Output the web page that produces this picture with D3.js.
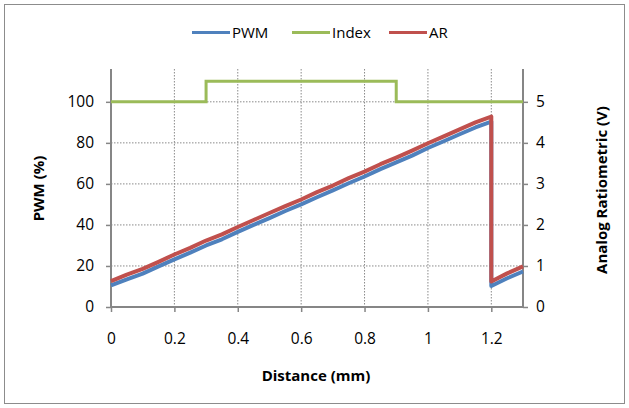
<!DOCTYPE html>
<html>
<head>
<script src="https://cdnjs.cloudflare.com/ajax/libs/d3/7.8.5/d3.min.js"></script>
<style>
 body {margin:0; background:#fff;}
 svg {display:block;}
 text {font-family: "Open Sans", sans-serif; fill:#000;}
</style>
<title>PWM / AR vs distance</title>
</head>
<body>
<div id="contenedor"></div>
<script>
// distance (mm)
var distance = [0,0.05,0.1,0.15,0.2,0.25,0.3,0.35,0.4,0.45,0.5,0.55,0.6,0.65,0.7,0.75,0.8,0.85,0.9,0.95,1,1.05,1.1,1.15,1.2,1.2,1.25,1.3];
// PWM (%)
var pwm = [10.5,13.5,16.3,19.8,23.2,26.5,30.0,33.0,36.6,40.0,43.3,46.8,50.0,53.5,56.8,60.3,63.6,67.2,70.5,73.8,77.5,80.8,84.2,87.5,90.3,10.2,14.0,17.3];
// AR (V)
var ar = [0.63,0.79,0.93,1.10,1.28,1.44,1.62,1.77,1.95,2.12,2.29,2.46,2.62,2.80,2.96,3.14,3.30,3.48,3.64,3.81,3.99,4.16,4.33,4.50,4.64,0.62,0.82,0.99];
// Index (%), step
var indexX = [0,0.3,0.3,0.9,0.9,1.3];
var indexY = [100,100,110,110,100,100];

var xTicks = [0,0.2,0.4,0.6,0.8,1,1.2];
var yTicks = [0,20,40,60,80,100];
var y2Ticks = [0,1,2,3,4,5];

var width = 629, height = 408;
var m = {left:111, right:523, top:69, bottom:307};

var svg = d3.select("#contenedor").append("svg").attr("width",width).attr("height",height);

svg.append("rect").attr("x",4.5).attr("y",4.5).attr("width",620).attr("height",399)
   .attr("fill","#fff").attr("stroke","#8c8c8c").attr("stroke-width",1);

var x = d3.scaleLinear().domain([0,1.3]).range([m.left,m.right]);
var y = d3.scaleLinear().domain([0,116]).range([m.bottom,m.top]);
var y2 = d3.scaleLinear().domain([0,5.8]).range([m.bottom,m.top]);

// grid
svg.append("g").selectAll("line").data(yTicks.slice(1)).enter().append("line")
   .attr("x1",m.left).attr("x2",m.right).attr("y1",d=>y(d)).attr("y2",d=>y(d))
   .attr("stroke","#8a8a8a").attr("stroke-width",1).attr("stroke-dasharray","1.5,1.5");
svg.append("g").selectAll("line").data(xTicks.slice(1)).enter().append("line")
   .attr("x1",d=>x(d)).attr("x2",d=>x(d)).attr("y1",m.top).attr("y2",m.bottom)
   .attr("stroke","#8a8a8a").attr("stroke-width",1).attr("stroke-dasharray","1.5,1.5");

// axes
function styleAxis(g){
  g.select(".domain").remove();
  g.selectAll(".tick line").attr("stroke","#868686").attr("stroke-width",1.5);
  g.selectAll(".tick text").style("font-size","15.5px").style("font-family","'Open Sans', sans-serif");
}
svg.append("g").attr("transform","translate(0,"+m.bottom+")")
   .call(d3.axisBottom(x).tickValues(xTicks).tickSize(5).tickPadding(21).tickFormat(d3.format("")))
   .call(styleAxis);
svg.append("g").attr("transform","translate("+m.left+",0)")
   .call(d3.axisLeft(y).tickValues(yTicks).tickSize(5).tickPadding(12))
   .call(styleAxis);
svg.append("g").attr("transform","translate("+m.right+",0)")
   .call(d3.axisRight(y2).tickValues(y2Ticks).tickSize(5).tickPadding(8).tickFormat(d3.format("d")))
   .call(styleAxis);

svg.append("line").attr("x1",m.left).attr("x2",m.left).attr("y1",m.top).attr("y2",m.bottom).attr("stroke","#868686").attr("stroke-width",2);
svg.append("line").attr("x1",m.right).attr("x2",m.right).attr("y1",m.top).attr("y2",m.bottom).attr("stroke","#868686").attr("stroke-width",2);
svg.append("line").attr("x1",m.left).attr("x2",m.right).attr("y1",m.bottom).attr("y2",m.bottom).attr("stroke","#868686").attr("stroke-width",2);

// series
var lineL = d3.line().x(d=>x(d[0])).y(d=>y(d[1]));
var lineR = d3.line().x(d=>x(d[0])).y(d=>y2(d[1]));

svg.append("path").datum(d3.zip(indexX,indexY)).attr("d",lineL)
   .attr("fill","none").attr("stroke","#9bbb59").attr("stroke-width",3);
svg.append("path").datum(d3.zip(distance,pwm)).attr("d",lineL)
   .attr("fill","none").attr("stroke","#4f81bd").attr("stroke-width",4).attr("stroke-linejoin","round");
svg.append("path").datum(d3.zip(distance,ar)).attr("d",lineR)
   .attr("fill","none").attr("stroke","#c0504d").attr("stroke-width",4).attr("stroke-linejoin","round");

// legend
var legend = [["PWM","#4f81bd",192],["Index","#9bbb59",292],["AR","#c0504d",389]];
var lg = svg.append("g").selectAll("g").data(legend).enter().append("g");
lg.append("line").attr("x1",d=>d[2]).attr("x2",d=>d[2]+38).attr("y1",32.5).attr("y2",32.5)
  .attr("stroke",d=>d[1]).attr("stroke-width",3);
lg.append("text").attr("x",d=>d[2]+40).attr("y",38).style("font-size","15px").text(d=>d[0]);

// titles
svg.append("text").attr("x",316).attr("y",381).attr("text-anchor","middle")
   .style("font-size","15px").style("font-weight","bold").text("Distance (mm)");
svg.append("text").attr("transform","translate(43.5,188.5) rotate(-90)").attr("text-anchor","middle")
   .style("font-size","15px").style("font-weight","bold").text("PWM (%)");
svg.append("text").attr("transform","translate(607,190) rotate(-90)").attr("text-anchor","middle")
   .style("font-size","15px").style("font-weight","bold").text("Analog Ratiometric (V)");
</script>
</body>
</html>
